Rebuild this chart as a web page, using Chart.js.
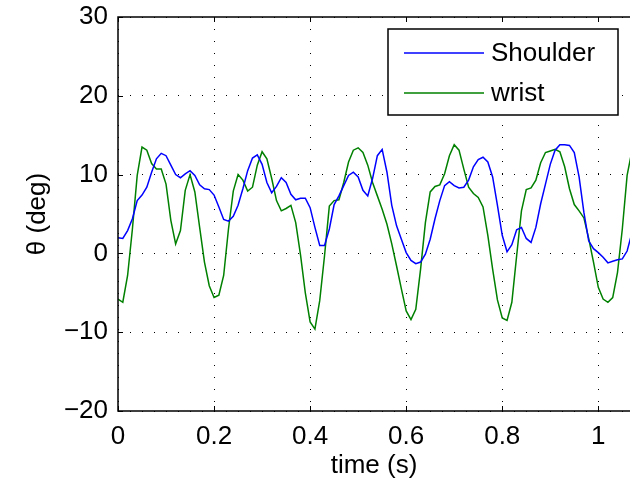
<!DOCTYPE html>
<html>
<head>
<meta charset="utf-8">
<script src="https://cdn.jsdelivr.net/npm/chart.js@4.4.1/dist/chart.umd.min.js"></script>
<style>
  html, body { margin: 0; padding: 0; background: #fff; }
  canvas { display: block; }
</style>
</head>
<body>
<canvas id="angles" width="630" height="480"></canvas>
<script>
// time samples (s)
const timeS = [
  0.00, 0.01, 0.02, 0.03, 0.04, 0.05, 0.06, 0.07, 0.08, 0.09,
  0.10, 0.11, 0.12, 0.13, 0.14, 0.15, 0.16, 0.17, 0.18, 0.19,
  0.20, 0.21, 0.22, 0.23, 0.24, 0.25, 0.26, 0.27, 0.28, 0.29,
  0.30, 0.31, 0.32, 0.33, 0.34, 0.35, 0.36, 0.37, 0.38, 0.39,
  0.40, 0.41, 0.42, 0.43, 0.44, 0.45, 0.46, 0.47, 0.48, 0.49,
  0.50, 0.51, 0.52, 0.53, 0.54, 0.55, 0.56, 0.57, 0.58, 0.59,
  0.60, 0.61, 0.62, 0.63, 0.64, 0.65, 0.66, 0.67, 0.68, 0.69,
  0.70, 0.71, 0.72, 0.73, 0.74, 0.75, 0.76, 0.77, 0.78, 0.79,
  0.80, 0.81, 0.82, 0.83, 0.84, 0.85, 0.86, 0.87, 0.88, 0.89,
  0.90, 0.91, 0.92, 0.93, 0.94, 0.95, 0.96, 0.97, 0.98, 0.99,
  1.00, 1.01, 1.02, 1.03, 1.04, 1.05, 1.06, 1.07
];

// shoulder angle (deg)
const shoulder = [
  2.0, 1.9, 2.9, 4.4, 6.7, 7.4, 8.4, 10.3, 12.0, 12.7,
  12.4, 11.2, 10.0, 9.6, 10.1, 10.5, 9.9, 8.7, 8.2, 8.1,
  7.4, 5.9, 4.3, 4.1, 4.7, 6.1, 8.2, 10.5, 12.1, 12.5,
  11.3, 9.0, 7.7, 8.5, 9.6, 9.0, 7.5, 6.8, 7.0, 7.0,
  5.8, 3.3, 1.0, 1.0, 3.1, 6.2, 7.3, 8.6, 9.9, 10.3,
  9.7, 8.0, 7.3, 9.5, 12.4, 13.2, 10.3, 6.1, 3.5, 1.8,
  0.1, -0.9, -1.3, -1.1, -0.1, 1.8, 4.4, 6.7, 8.6, 9.1,
  8.6, 8.3, 8.4, 9.3, 11.0, 11.9, 12.2, 11.6, 9.7, 6.1,
  2.3, 0.2, 1.1, 3.0, 3.3, 1.9, 1.4, 3.3, 6.3, 8.8,
  11.3, 13.1, 13.8, 13.8, 13.7, 12.8, 9.7, 5.2, 1.6, 0.6,
  0.1, -0.5, -1.2, -1.0, -0.8, -0.7, 0.3, 2.6
];

// wrist angle (deg)
const wrist = [
  -5.8, -6.2, -2.8, 3.1, 9.9, 13.5, 13.1, 11.4, 10.7, 10.7,
  8.8, 4.2, 1.2, 2.9, 8.0, 10.0, 7.8, 3.3, -1.1, -4.1,
  -5.6, -5.3, -2.8, 3.1, 7.9, 10.0, 9.3, 7.9, 8.4, 11.2,
  12.9, 12.0, 9.5, 6.7, 5.4, 5.7, 6.1, 3.9, -0.2, -5.0,
  -8.7, -9.6, -6.0, -0.3, 6.0, 6.7, 6.8, 9.0, 11.6, 13.1,
  13.4, 12.8, 11.2, 9.0, 7.3, 5.6, 3.7, 1.2, -1.6, -4.5,
  -7.3, -8.4, -7.1, -2.0, 3.9, 7.8, 8.5, 8.7, 10.1, 12.4,
  13.8, 13.1, 10.7, 8.4, 7.6, 7.1, 5.9, 2.3, -2.0, -5.9,
  -8.2, -8.5, -6.2, -0.3, 5.4, 8.1, 8.3, 9.3, 11.5, 12.8,
  13.0, 13.2, 12.9, 11.0, 8.2, 6.2, 5.4, 4.5, 1.9, -1.1,
  -4.3, -5.8, -6.2, -5.6, -2.4, 3.1, 9.9, 13.0
];

const xTicks = [0, 0.2, 0.4, 0.6, 0.8, 1];
const yTicks = [-20, -10, 0, 10, 20, 30];

const FONT = '"Liberation Sans", Arial, Helvetica, sans-serif';

function pts(ys) {
  return timeS.map((t, i) => ({ x: t, y: ys[i] }));
}

function minus(v) {
  return String(v).replace('-', '\u2212');
}

// box, inner ticks and legend drawn like a matlab figure
const matlabFrame = {
  id: 'matlabFrame',
  afterDraw(chart) {
    const ctx = chart.ctx;
    const a = chart.chartArea;
    const xs = chart.scales.x;
    const ys = chart.scales.y;
    ctx.save();
    ctx.strokeStyle = '#000';
    ctx.lineWidth = 1.5;
    ctx.beginPath();
    ctx.moveTo(a.right + 2, a.top);
    ctx.lineTo(a.left, a.top);
    ctx.lineTo(a.left, a.bottom);
    ctx.lineTo(a.right + 2, a.bottom);
    ctx.stroke();

    ctx.lineWidth = 1;
    ctx.beginPath();
    xTicks.forEach(v => {
      const px = Math.round(xs.getPixelForValue(v)) + 0.5;
      ctx.moveTo(px, a.bottom); ctx.lineTo(px, a.bottom - 5);
      ctx.moveTo(px, a.top); ctx.lineTo(px, a.top + 5);
    });
    yTicks.forEach(v => {
      const py = Math.round(ys.getPixelForValue(v)) + 0.5;
      ctx.moveTo(a.left, py); ctx.lineTo(a.left + 5, py);
    });
    ctx.stroke();

    // legend
    const lx = 388, ly = 29, lw = 230, lh = 86;
    ctx.fillStyle = '#fff';
    ctx.fillRect(lx, ly, lw, lh);
    ctx.lineWidth = 1.5;
    ctx.strokeStyle = '#000';
    ctx.strokeRect(lx, ly, lw, lh);
    ctx.font = '26px ' + FONT;
    ctx.textBaseline = 'middle';
    ctx.textAlign = 'left';
    chart.data.datasets.forEach((ds, i) => {
      const y = 53 + i * 40;
      ctx.strokeStyle = ds.borderColor;
      ctx.lineWidth = 1.5;
      ctx.beginPath();
      ctx.moveTo(404, y);
      ctx.lineTo(484, y);
      ctx.stroke();
      ctx.fillStyle = '#000';
      ctx.fillText(ds.label, 491, y + 1);
    });
    ctx.restore();
  }
};

new Chart(document.getElementById('angles'), {
  type: 'line',
  data: {
    datasets: [
      {
        label: 'Shoulder',
        data: pts(shoulder),
        borderColor: '#0000ff',
        borderWidth: 1.5,
        pointRadius: 0,
        tension: 0
      },
      {
        label: 'wrist',
        data: pts(wrist),
        borderColor: '#008000',
        borderWidth: 1.5,
        pointRadius: 0,
        tension: 0
      }
    ]
  },
  options: {
    responsive: false,
    animation: false,
    devicePixelRatio: 1,
    layout: { padding: { top: 17, right: 0, left: 0, bottom: 0 } },
    plugins: {
      legend: { display: false },
      tooltip: { enabled: false }
    },
    scales: {
      x: {
        type: 'linear',
        min: 0,
        max: 1.066,
        afterBuildTicks: (axis) => { axis.ticks = xTicks.map(v => ({ value: v })); },
        afterFit: (scale) => {
          scale.height = 69;
          scale.paddingLeft = 0;
          scale.paddingRight = 0;
        },
        grid: { color: '#000', lineWidth: 1, drawTicks: false },
        border: { display: false, dash: [1, 11] },
        ticks: {
          color: '#000',
          padding: 10,
          maxRotation: 0,
          font: { family: FONT, size: 26 },
          callback: (v) => minus(v)
        },
        title: {
          display: true,
          text: 'time (s)',
          color: '#000',
          font: { family: FONT, size: 26, lineHeight: 1.1 },
          padding: { top: 0, bottom: 0 }
        }
      },
      y: {
        min: -20,
        max: 30,
        afterBuildTicks: (axis) => { axis.ticks = yTicks.map(v => ({ value: v })); },
        afterFit: (scale) => {
          scale.width = 118;
          scale.paddingTop = 0;
          scale.paddingBottom = 0;
        },
        grid: { color: '#000', lineWidth: 1, drawTicks: false },
        border: { display: false, dash: [1, 11] },
        ticks: {
          color: '#000',
          padding: 10,
          font: { family: FONT, size: 26 },
          callback: (v) => minus(v)
        },
        title: {
          display: true,
          text: '\u03b8 (deg)',
          color: '#000',
          font: { family: FONT, size: 26, lineHeight: 1.1 },
          padding: { top: 24, bottom: 0 }
        }
      }
    }
  },
  plugins: [matlabFrame]
});
</script>
</body>
</html>
